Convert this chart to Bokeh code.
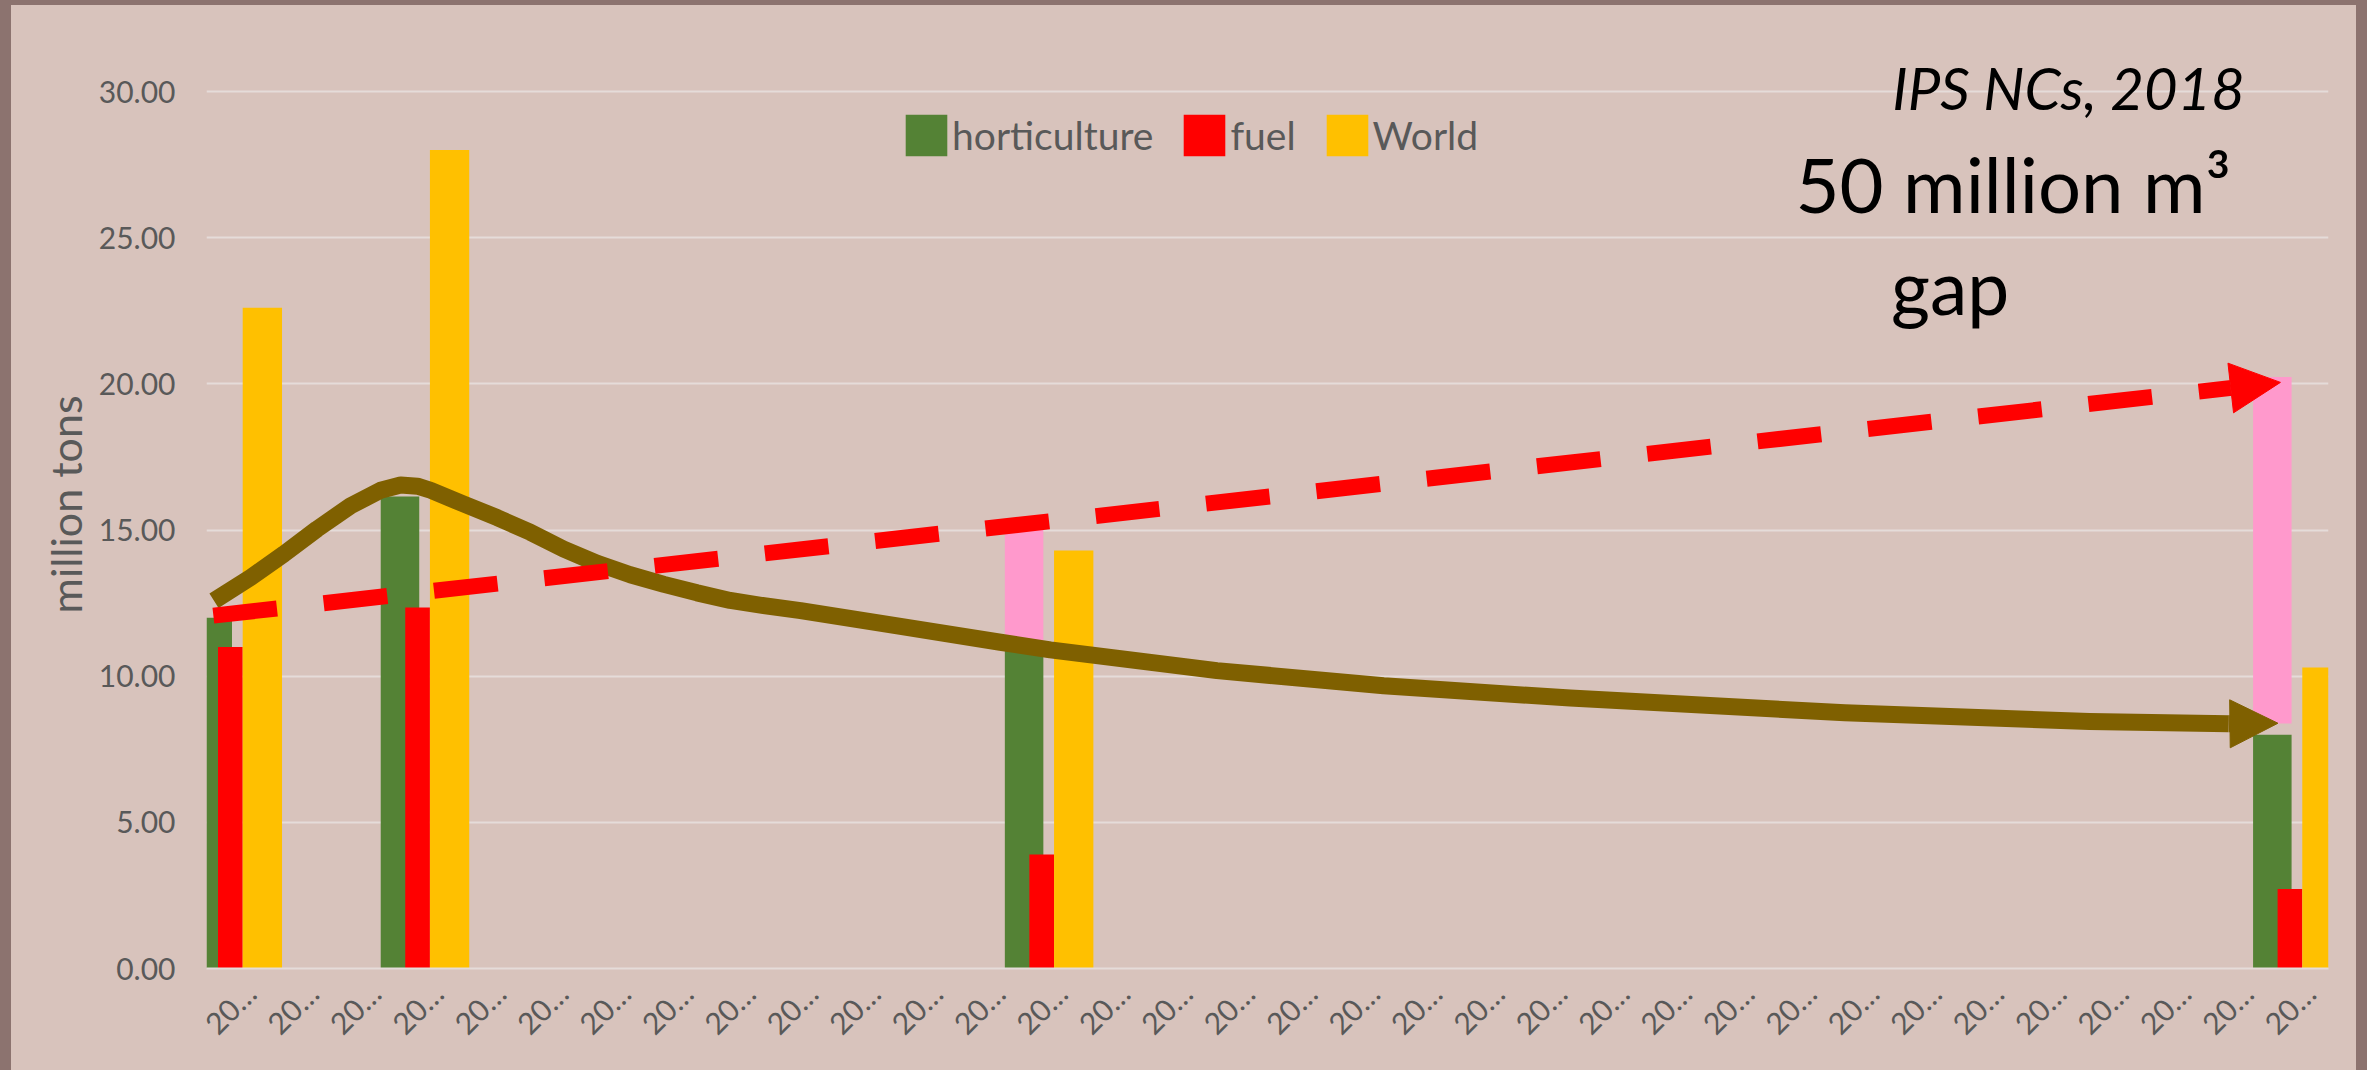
import math

from bokeh.embed import file_html
from bokeh.layouts import column
from bokeh.models import (Arrow, FixedTicker, Label, Legend, LegendItem,
                          LinearAxis, NormalHead, NumeralTickFormatter, Range1d)
from bokeh.plotting import figure
from bokeh.resources import INLINE

# ---- data -----------------------------------------------------------------
years = [2005, 2006, 2007, 2008, 2009, 2010, 2011, 2012, 2013, 2014, 2015, 2016,
         2017, 2018, 2019, 2020, 2021, 2022, 2023, 2024, 2025, 2026, 2027, 2028,
         2029, 2030, 2031, 2032, 2033, 2034, 2035, 2036, 2037, 2038]

bar_years = [2005, 2008, 2018, 2038]
horticulture = [12.0, 16.15, 10.9, 8.0]
fuel = [11.0, 12.35, 3.9, 2.72]
world = [22.6, 28.0, 14.3, 10.3]

# supply gap stacked above horticulture
gap_years = [2018, 2038]
gap_low = [10.95, 8.38]
gap_high = [15.0, 20.23]

# horticulture supply trend (curved arrow)
trend_x = [2004.62, 2005.21, 2005.74, 2006.27, 2006.81, 2007.29, 2007.61, 2007.88,
           2008.09, 2008.62, 2009.16, 2009.69, 2010.22, 2010.76, 2011.29, 2011.83,
           2012.36, 2012.89, 2013.43, 2014.02, 2015.62, 2017.22, 2018.02, 2020.69,
           2023.36, 2026.35, 2030.75, 2034.67, 2036.90]
trend_y = [12.58, 13.38, 14.18, 15.03, 15.83, 16.36, 16.54, 16.50,
           16.36, 15.89, 15.42, 14.92, 14.35, 13.86, 13.47, 13.14,
           12.85, 12.59, 12.41, 12.24, 11.70, 11.16, 10.90, 10.19,
           9.67, 9.25, 8.75, 8.45, 8.37]
trend_tip = (2037.69, 8.39)

# demand trend (dashed arrow)
demand_x = [2004.61, 2037.73]
demand_y = [12.07, 20.05]

y_ticks = [0, 5, 10, 15, 20, 25, 30]

# ---- style ----------------------------------------------------------------
BG = "#d8c3bc"
EDGE = "#8c736f"
GRID = "#e5dcd9"
AXIS_TXT = "#595959"
GREEN = "#548235"
RED = "#ff0000"
YELLOW = "#ffc000"
PINK = "#ff99cc"
BROWN = "#7f6000"
FONT = "Lato"

# the frame reaches a little above 30 so the corner notes are not clipped
p = figure(width=2345, height=1065, output_backend="svg", toolbar_location=None,
           x_range=Range1d(2004.5, 2038.5), y_range=Range1d(0, 31.745),
           x_axis_location=None,
           min_border_left=195, min_border_right=28, min_border_top=35,
           min_border_bottom=102,
           background_fill_color=BG, border_fill_color=BG)
p.outline_line_color = None
p.margin = (5, 11, 0, 11)

# y axis
p.yaxis.ticker = FixedTicker(ticks=y_ticks)
p.yaxis.formatter = NumeralTickFormatter(format="0.00")
p.yaxis.axis_line_color = None
p.yaxis.major_tick_line_color = None
p.yaxis.minor_tick_line_color = None
p.yaxis.major_label_text_font = FONT
p.yaxis.major_label_text_font_size = "30px"
p.yaxis.major_label_text_color = AXIS_TXT
p.yaxis.major_label_standoff = 25
p.yaxis.axis_label = "million tons"
p.yaxis.axis_label_text_font = FONT
p.yaxis.axis_label_text_font_size = "43px"
p.yaxis.axis_label_text_font_style = "normal"
p.yaxis.axis_label_text_color = AXIS_TXT
p.yaxis.axis_label_standoff = 5

# category axis: slanted labels centred under each year slot
p.extra_x_ranges = {"labels": Range1d(2004.3, 2038.3)}
xaxis = LinearAxis(x_range_name="labels", ticker=FixedTicker(ticks=years),
                   major_label_overrides={y: str(y)[:2] + "…" for y in years},
                   major_label_orientation=math.pi / 4,
                   major_label_text_font=FONT, major_label_text_font_size="30px",
                   major_label_text_color=AXIS_TXT, major_label_standoff=13,
                   axis_line_color=GRID, axis_line_width=2,
                   major_tick_line_color=None, minor_tick_line_color=None)
p.add_layout(xaxis, "below")

p.xgrid.visible = False
p.ygrid.grid_line_color = GRID
p.ygrid.grid_line_width = 2

# bars: clustered with overlap (green / red / yellow)
g = p.vbar(x=[y - 0.40 for y in bar_years], top=horticulture, width=0.617,
           fill_color=GREEN, line_color=None)
p.vbar(x=[y - 0.40 for y in gap_years], bottom=gap_low, top=gap_high,
       width=0.617, fill_color=PINK, line_color=None)
r = p.vbar(x=[y - 0.118 for y in bar_years], top=fuel, width=0.395,
           fill_color=RED, line_color=None)
w = p.vbar(x=[y + 0.395 for y in bar_years], top=world, width=0.63,
           fill_color=YELLOW, line_color=None)

# demand: dashed red arrow
p.add_layout(Arrow(x_start=demand_x[0], y_start=demand_y[0],
                   x_end=demand_x[1], y_end=demand_y[1],
                   line_color=RED, line_width=16, line_dash="64 47",
                   end=NormalHead(size=50, fill_color=RED, line_color=RED,
                                  line_width=1)))

# horticulture trend: curved brown arrow
p.line(trend_x, trend_y, line_color=BROWN, line_width=17, line_join="round")
p.add_layout(Arrow(x_start=trend_x[-1], y_start=trend_y[-1],
                   x_end=trend_tip[0], y_end=trend_tip[1],
                   line_color=BROWN, line_width=17,
                   end=NormalHead(size=48, fill_color=BROWN, line_color=BROWN,
                                  line_width=1)))

legend = Legend(items=[LegendItem(label="horticulture", renderers=[g]),
                       LegendItem(label="fuel", renderers=[r]),
                       LegendItem(label="World", renderers=[w])],
                orientation="horizontal", location=(694, 807),
                glyph_width=52, glyph_height=52, label_height=52,
                label_standoff=0, spacing=25, padding=0, margin=0,
                background_fill_alpha=0, border_line_alpha=0,
                label_text_font=FONT, label_text_font_size="39px",
                label_text_color=AXIS_TXT)
p.add_layout(legend)

# annotations
for txt, x, y, size, style in [("IPS NCs, 2018", 2031.51, 30.13, "58px", "italic"),
                               ("50 million m³", 2029.96, 26.85, "76px", "normal"),
                               ("gap", 2031.49, 23.35, "75px", "normal")]:
    p.add_layout(Label(x=x, y=y, text=txt, text_font=FONT,
                       text_font_size=size, text_font_style=style,
                       text_color="black", text_align="left",
                       text_baseline="alphabetic"))

# page behind the chart: chart colour, with a darker strip round the edges
root = column(p, styles={
    "background-color": BG,
    "box-shadow": f"inset 11px 0 0 0 {EDGE}, inset -11px 0 0 0 {EDGE}, "
                  f"inset 0 5px 0 0 {EDGE}",
})

open("out.html", "w").write(file_html(root, INLINE))
